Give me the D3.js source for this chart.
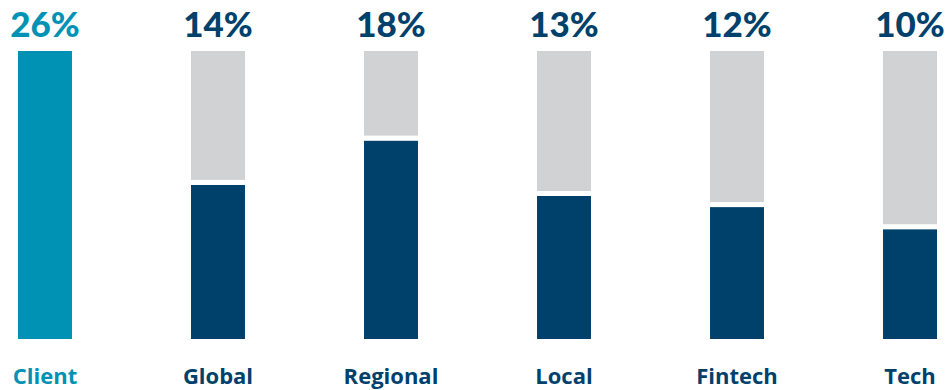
<html><head>
<script src="https://d3js.org/d3.v7.min.js"></script>
<style>
  body { margin: 0; background: #fff; }
</style>
</head>
<body>
<svg id="plot" width="952" height="390"></svg>
<script>
const categories = ["Client", "Global", "Regional", "Local", "Fintech", "Tech"];
const values = [26, 14, 18, 13, 12, 10];
const maxValue = 26;

const svg = d3.select("svg#plot");
const teal = "#0092b4";
const navy = "#00416c";
const grey = "#d1d2d4";

const x = d3.scaleBand().domain(categories).range([18, 937]).paddingInner(0.688).paddingOuter(0);
const y = d3.scaleLinear().domain([0, maxValue]).range([339, 51]);

const data = categories.map((c, i) => ({cat: c, val: values[i], client: i === 0}));

let g = svg.append("g");

// background bar (full scale)
g.selectAll("rect.bg").data(data.filter(d => !d.client)).join("rect")
  .attr("class", "bg")
  .attr("x", d => x(d.cat)).attr("width", x.bandwidth())
  .attr("y", y(maxValue)).attr("height", y(0) - y(maxValue))
  .attr("fill", grey);

// value bars
g.selectAll("rect.val").data(data).join("rect")
  .attr("class", "val")
  .attr("x", d => x(d.cat)).attr("width", x.bandwidth())
  .attr("y", d => d.client ? y(d.val) : y(d.val) + 1)
  .attr("height", d => d.client ? y(0) - y(d.val) : y(0) - y(d.val) - 1)
  .attr("fill", d => d.client ? teal : navy);

// white divider
g.selectAll("rect.gap").data(data.filter(d => !d.client)).join("rect")
  .attr("class", "gap")
  .attr("x", d => x(d.cat)).attr("width", x.bandwidth())
  .attr("y", d => y(d.val) - 4).attr("height", 5)
  .attr("fill", "#fff");

// percentage labels
g.selectAll("text.pct").data(data).join("text")
  .attr("class", "pct")
  .attr("x", d => x(d.cat) + x.bandwidth() / 2)
  .attr("y", 37)
  .attr("text-anchor", "middle")
  .attr("font-family", "Lato")
  .attr("font-weight", 900)
  .attr("font-size", 35)
  .attr("fill", d => d.client ? teal : navy)
  .text(d => d.val + "%");

// category labels
g.selectAll("text.cat").data(data).join("text")
  .attr("class", "cat")
  .attr("x", d => x(d.cat) + x.bandwidth() / 2)
  .attr("y", 384)
  .attr("text-anchor", "middle")
  .attr("font-family", "Open Sans")
  .attr("font-weight", 700)
  .attr("font-size", 22)
  .attr("fill", d => d.client ? teal : navy)
  .text(d => d.cat);
</script>
</body>
</html>
